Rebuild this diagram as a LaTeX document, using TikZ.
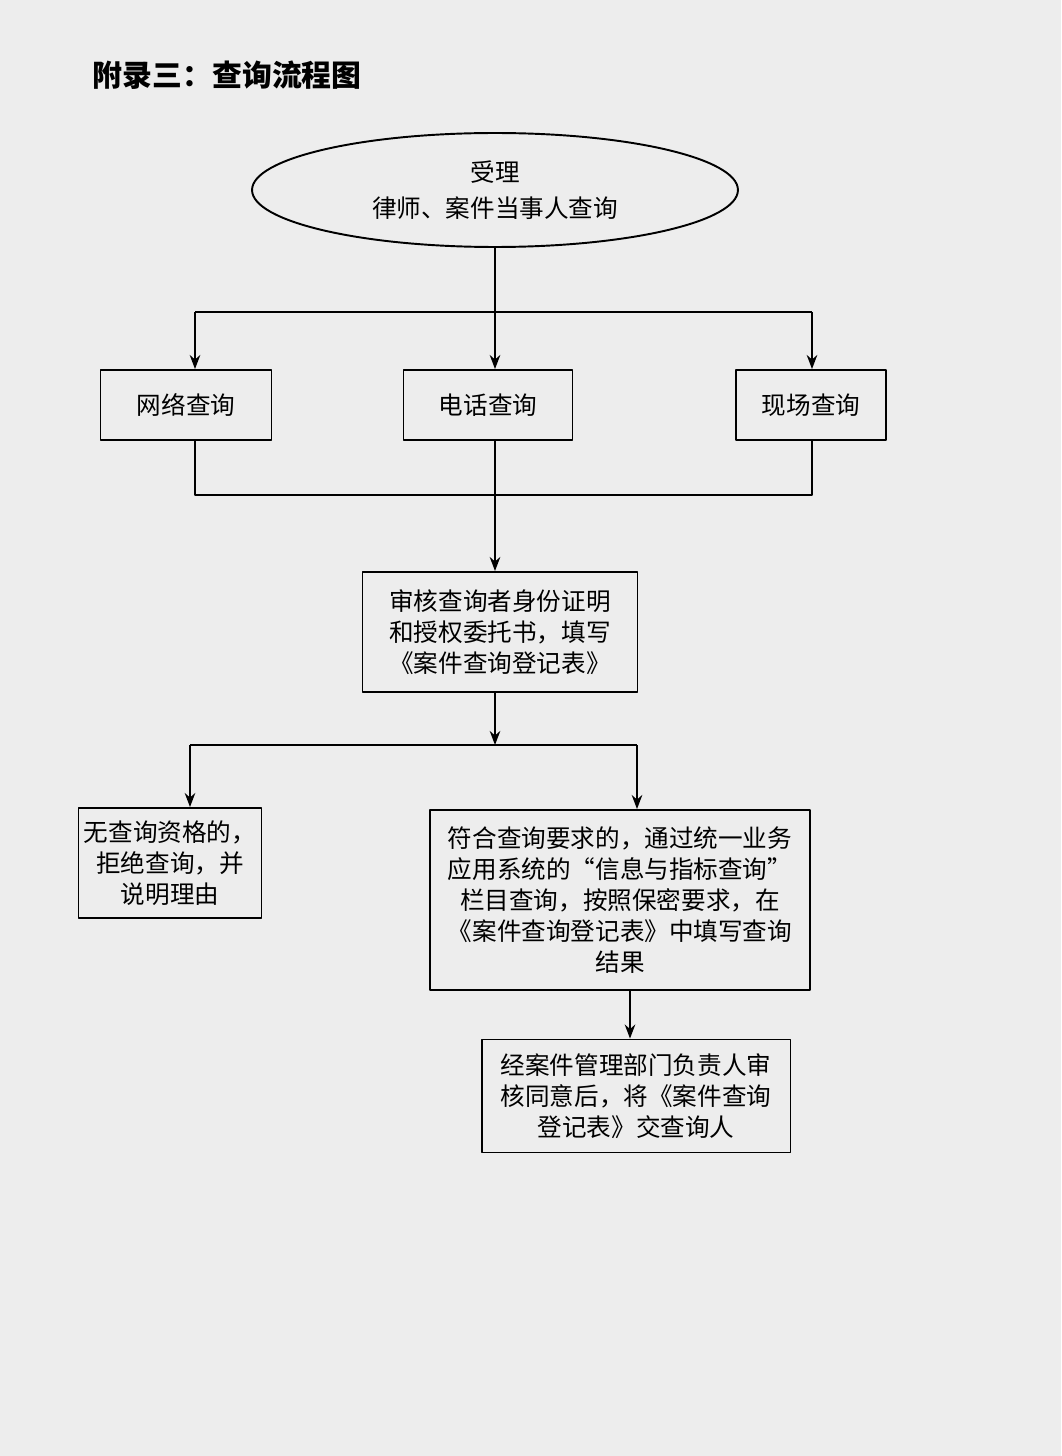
\documentclass[tikz,border=0pt]{standalone}
\usepackage{fontspec}
\newfontfamily\cjk{Noto Sans CJK SC}
\usetikzlibrary{shapes.geometric,arrows.meta}
\begin{document}
\begin{tikzpicture}[x=0.02cm,y=-0.02cm,>={Stealth[length=8pt,width=6pt]},line join=round,line width=1.1pt,
        font=\cjk\fontsize{14pt}{17.6pt}\selectfont,
        box/.style={draw,align=center,inner sep=2pt}]
                \fill[black!7] (0,0) rectangle (1061,1456);
                \useasboundingbox (0,0) rectangle (1061,1456);
                \node[anchor=west,font=\cjk\bfseries\fontsize{17pt}{20pt}\selectfont] (title) at (86,75) {附录三：查询流程图};
                \node[draw,ellipse,align=center,minimum width=9.72cm,minimum height=2.28cm] (accept) at (495,190) {受理\\[3pt]律师、案件当事人查询};
                \node[box,minimum width=3.42cm,minimum height=1.4cm] (net) at (186,405) {网络查询};
                \node[box,minimum width=3.38cm,minimum height=1.4cm] (tel) at (488,405) {电话查询};
                \node[box,minimum width=3cm,minimum height=1.4cm] (site) at (811,405) {现场查询};
                \node[box,minimum width=5.5cm,minimum height=2.4cm] (check) at (500,632) {审核查询者身份证明\\和授权委托书，填写\\《案件查询登记表》};
                \node[box,minimum width=3.66cm,minimum height=2.2cm] (deny) at (170,863) {无查询资格的，\\拒绝查询，并\\说明理由};
                \node[box,minimum width=7.6cm,minimum height=3.6cm] (query) at (620,900) {符合查询要求的，通过统一业务\\应用系统的“信息与指标查询”\\栏目查询，按照保密要求，在\\《案件查询登记表》中填写查询\\结果};
                \node[box,minimum width=6.18cm,minimum height=2.26cm] (hand) at (636,1096) {经案件管理部门负责人审\\核同意后，将《案件查询\\登记表》交查询人};
                \coordinate (s1) at (195,312); \coordinate (s2) at (812,312);
                \coordinate (m1) at (195,495); \coordinate (m2) at (812,495);
                \coordinate (d1) at (190,745); \coordinate (d2) at (637,745);
                \coordinate (q) at (630,0);
                \draw[->] (accept.south)--(accept.south |- tel.north);
                \draw (s1)--(s2);
                \draw[->] (s1)--(s1 |- net.north);
                \draw[->] (s2)--(s2 |- site.north);
                \draw (s1 |- net.south)--(m1)--(m2)--(s2 |- site.south);
                \draw[->] (accept.south |- tel.south)--(accept.south |- check.north);
                \draw[->] (accept.south |- check.south)--(accept.south |- d1);
                \draw (d1)--(d2);
                \draw[->] (d1)--(d1 |- deny.north);
                \draw[->] (d2)--(d2 |- query.north);
                \draw[->] (q |- query.south)--(q |- hand.north);
        \end{tikzpicture}
\end{document}
